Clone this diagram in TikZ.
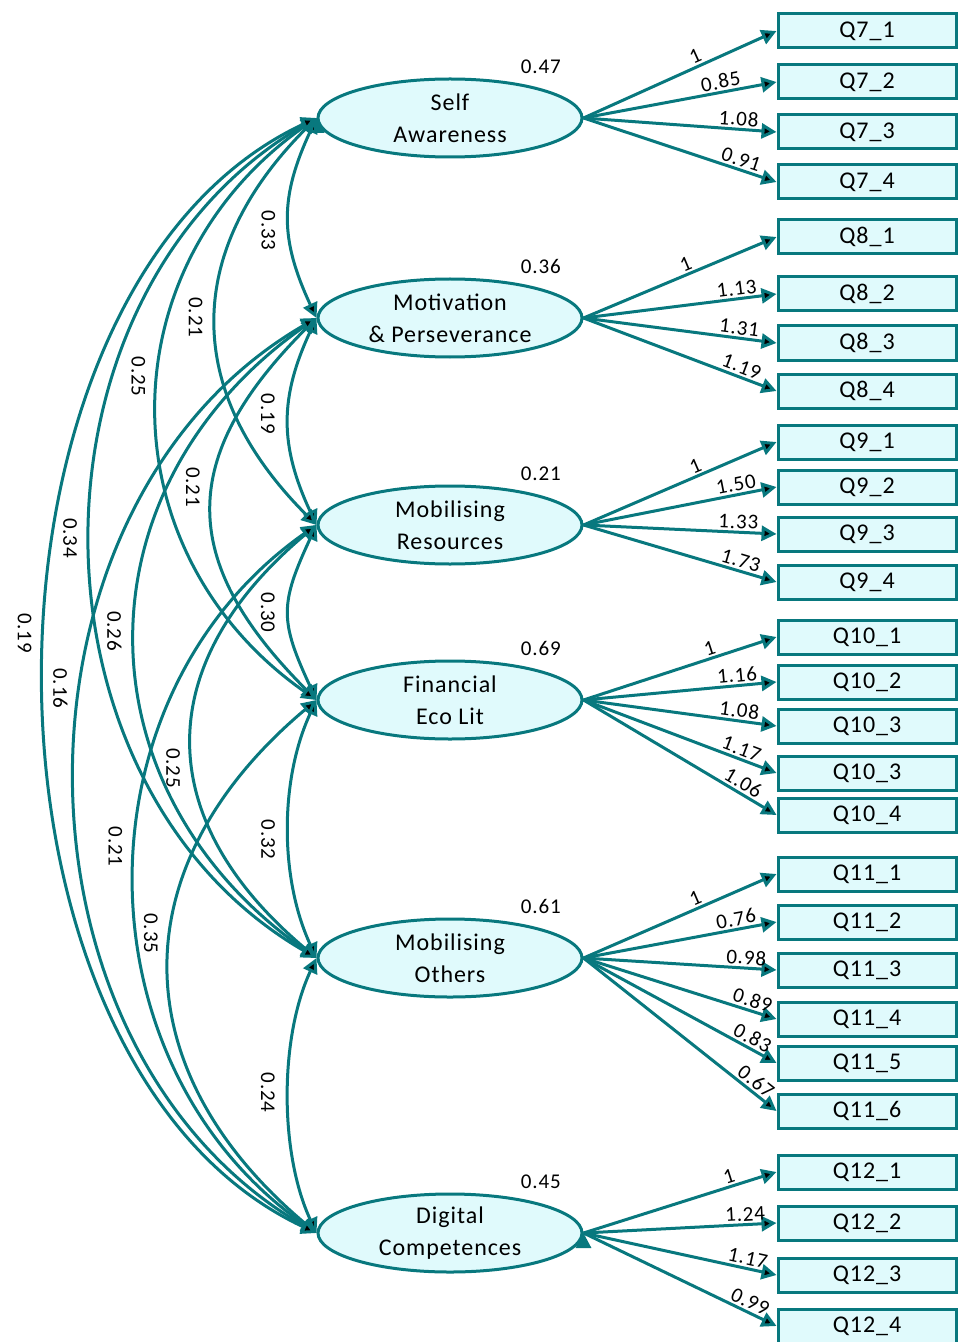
\documentclass[tikz,border=0pt]{standalone}
\usepackage{fontspec}
\setmainfont{Carlito}[LetterSpace=4]
\usetikzlibrary{arrows.meta,shapes.geometric}
\definecolor{semline}{RGB}{8,120,126}
\definecolor{semfill}{RGB}{224,250,252}
\newcommand{\semnum}{\fontsize{10.5}{10.5}\selectfont}
\newcommand{\semtxt}{\fontsize{12}{16}\selectfont}
\tikzstyle{lv}=[shape=ellipse,
                draw=semline,
                fill=semfill,
                line width=1.5pt,
                minimum width=132pt,
                minimum height=39pt,
                inner sep=0pt,
                align=center,
                font=\semtxt]
\tikzstyle{ov}=[shape=rectangle,
                draw=semline,
                fill=semfill,
                line width=1.5pt,
                minimum width=89pt,
                minimum height=17pt,
                inner sep=0pt,
                font=\semtxt]
\tikzstyle{ld}=[sloped,above,pos=0.8,inner sep=1pt,font=\semnum]
\tikzstyle{cv}=[rotate=-90,anchor=north,inner sep=1pt,outer sep=6pt,font=\semnum]
\tikzstyle{vr}=[label distance=1pt,font=\semnum]

\begin{document}
\begin{tikzpicture}[x=0.5pt,y=0.5pt,>={Triangle[length=7.5pt,width=7.5pt]}]
\useasboundingbox (0,0) rectangle (958,-1342);
\clip (0,0) rectangle (958,-1342);

% latent variables
\node[lv,label={[vr]30:0.47}] (sa) at (450,-118)  {Self\\Awareness};
\node[lv,label={[vr]30:0.36}] (mp) at (450,-318)  {Motivation\\\& Perseverance};
\node[lv,label={[vr]30:0.21}] (mr) at (450,-525)  {Mobilising\\Resources};
\node[lv,label={[vr]30:0.69}] (fe) at (450,-700)  {Financial\\Eco Lit};
\node[lv,label={[vr]30:0.61}] (mo) at (450,-958)  {Mobilising\\Others};
\node[lv,label={[vr]30:0.45}] (dc) at (450,-1233) {Digital\\Competences};

% observed variables
\node[ov] (q7a) at (867,-31)  {Q7\_1};
\node[ov] (q7b) at (867,-82)  {Q7\_2};
\node[ov] (q7c) at (867,-132) {Q7\_3};
\node[ov] (q7d) at (867,-182) {Q7\_4};

\node[ov] (q8a) at (867,-237) {Q8\_1};
\node[ov] (q8b) at (867,-294) {Q8\_2};
\node[ov] (q8c) at (867,-343) {Q8\_3};
\node[ov] (q8d) at (867,-391) {Q8\_4};

\node[ov] (q9a) at (867,-442) {Q9\_1};
\node[ov] (q9b) at (867,-487) {Q9\_2};
\node[ov] (q9c) at (867,-534) {Q9\_3};
\node[ov] (q9d) at (867,-582) {Q9\_4};

\node[ov] (q10a) at (867,-637) {Q10\_1};
\node[ov] (q10b) at (867,-682) {Q10\_2};
\node[ov] (q10c) at (867,-726) {Q10\_3};
\node[ov] (q10d) at (867,-773) {Q10\_3};
\node[ov] (q10e) at (867,-815) {Q10\_4};

\node[ov] (q11a) at (867,-874)  {Q11\_1};
\node[ov] (q11b) at (867,-922)  {Q11\_2};
\node[ov] (q11c) at (867,-970)  {Q11\_3};
\node[ov] (q11d) at (867,-1019) {Q11\_4};
\node[ov] (q11e) at (867,-1063) {Q11\_5};
\node[ov] (q11f) at (867,-1111) {Q11\_6};

\node[ov] (q12a) at (867,-1172) {Q12\_1};
\node[ov] (q12b) at (867,-1223) {Q12\_2};
\node[ov] (q12c) at (867,-1275) {Q12\_3};
\node[ov] (q12d) at (867,-1326) {Q12\_4};

% loadings
\path[->,draw=semline,line width=1.5pt]
      (sa.east) edge node[ld,pos=0.6] {1} (q7a.west)
      (sa.east) edge node[ld,pos=0.72] {0.85} (q7b.west)
      (sa.east) edge node[ld] {1.08} (q7c.west)
      (sa.east) edge node[ld] {0.91} (q7d.west)
      (mp.east) edge node[ld,pos=0.55] {1} (q8a.west)
      (mp.east) edge node[ld] {1.13} (q8b.west)
      (mp.east) edge node[ld] {1.31} (q8c.west)
      (mp.east) edge node[ld] {1.19} (q8d.west)
      (mr.east) edge node[ld,pos=0.6] {1} (q9a.west)
      (mr.east) edge node[ld] {1.50} (q9b.west)
      (mr.east) edge node[ld] {1.33} (q9c.west)
      (mr.east) edge node[ld] {1.73} (q9d.west)
      (fe.east) edge node[ld,pos=0.67] {1} (q10a.west)
      (fe.east) edge node[ld] {1.16} (q10b.west)
      (fe.east) edge node[ld] {1.08} (q10c.west)
      (fe.east) edge node[ld] {1.17} (q10d.west)
      (fe.east) edge node[ld] {1.06} (q10e.west)
      (mo.east) edge node[ld,pos=0.6] {1} (q11a.west)
      (mo.east) edge node[ld] {0.76} (q11b.west)
      (mo.east) edge node[ld,pos=0.84] {0.98} (q11c.west)
      (mo.east) edge node[ld,pos=0.86] {0.89} (q11d.west)
      (mo.east) edge node[ld,pos=0.85] {0.83} (q11e.west)
      (mo.east) edge node[ld,pos=0.86] {0.67} (q11f.west)
      (dc.east) edge node[ld,pos=0.77] {1} (q12a.west)
      (dc.east) edge node[ld,pos=0.84] {1.24} (q12b.west)
      (dc.east) edge node[ld,pos=0.84] {1.17} (q12c.west)
      (dc.east) edge node[ld,pos=0.84] {0.99} (q12d.west);

% covariances
\path[<->,draw=semline,line width=1.5pt]
      (sa.west) edge[bend right=25,looseness=1.12] node[cv,pos=0.57] {0.33} (mp.west)
      (mp.west) edge[bend right=25,looseness=1.09] node[cv,pos=0.46] {0.19} (mr.west)
      (mr.west) edge[bend right=25,looseness=1.28] node[cv,pos=0.5]  {0.30} (fe.west)
      (fe.west) edge[bend right=25,looseness=0.87] node[cv,pos=0.54] {0.32} (mo.west)
      (mo.west) edge[bend right=25,looseness=0.82] node[cv,pos=0.49] {0.24} (dc.west)
      (sa.west) edge[bend right=45,looseness=1.19] node[cv,pos=0.49] {0.21} (mr.west)
      (mp.west) edge[bend right=45,looseness=1.32] node[cv,pos=0.44] {0.21} (fe.west)
      (mr.west) edge[bend right=50,looseness=1.28] node[cv,pos=0.56] {0.25} (mo.west)
      (fe.west) edge[bend right=50,looseness=1.23] node[cv,pos=0.44] {0.35} (dc.west)
      (sa.west) edge[bend right=55,looseness=1.14] node[cv,pos=0.45] {0.25} (fe.west)
      (mp.west) edge[bend right=55,looseness=1.18] node[cv,pos=0.49] {0.26} (mo.west)
      (mr.west) edge[bend right=55,looseness=1.07] node[cv,pos=0.46] {0.21} (dc.west)
      (sa.west) edge[bend right=60,looseness=1.06] node[cv,pos=0.5]  {0.34} (mo.west)
      (mp.west) edge[bend right=60,looseness=1.04] node[cv,pos=0.42] {0.16} (dc.west)
      (sa.west) edge[bend right=65,looseness=0.92] node[cv,pos=0.47] {0.19} (dc.west);
\end{tikzpicture}
\end{document}
